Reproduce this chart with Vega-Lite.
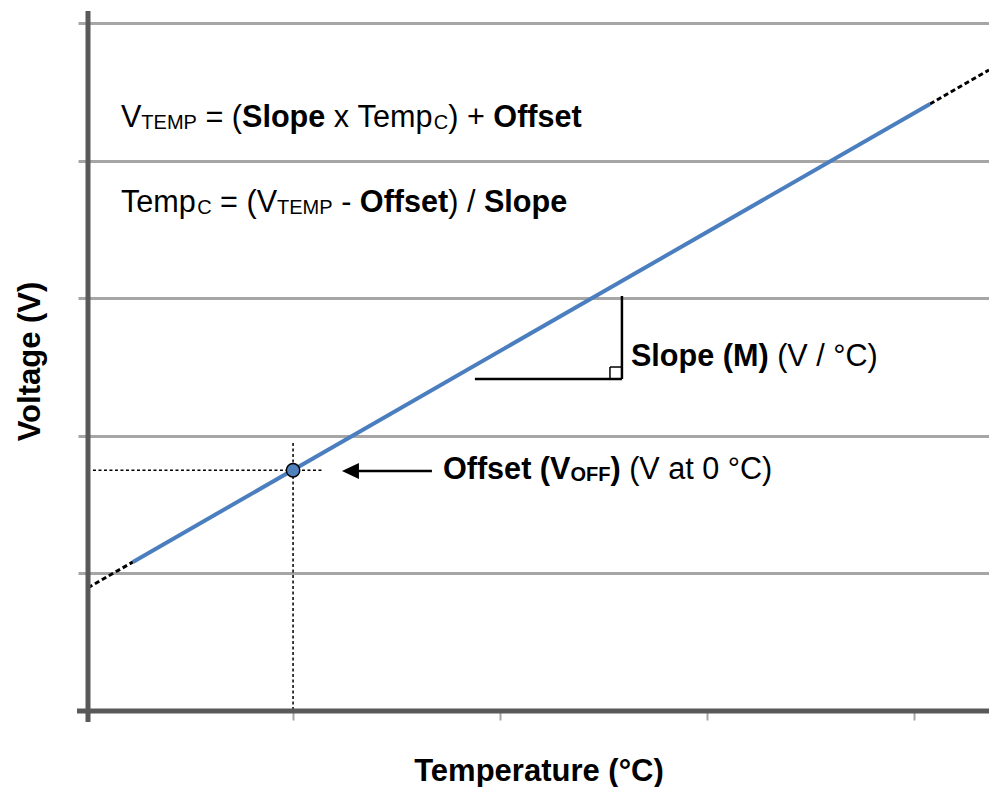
{
  "$schema": "https://vega.github.io/schema/vega-lite/v6.json",
  "width": 901,
  "height": 700,
  "autosize": {"type": "none"},
  "padding": {"left": 88, "top": 11, "right": 0, "bottom": 76},
  "background": "white",
  "config": {"view": {"stroke": null}, "font": "Liberation Sans"},
  "datasets": {
    "axesLines": [
      {"x": 0.01, "y": -0.08, "x2": 0.01, "y2": 5.09},
      {"x": -0.043, "y": 0, "x2": 4.36, "y2": 0}
    ],
    "extensions": [
      {"x": 0.01, "y": 0.896, "x2": 0.227, "y2": 1.084},
      {"x": 4.075, "y": 4.414, "x2": 4.36, "y2": 4.661}
    ],
    "fit": [
      {"x": 0.227, "y": 1.084, "x2": 4.075, "y2": 4.414}
    ],
    "crosshair": [
      {"x": 0.034, "y": 1.75, "x2": 1.139, "y2": 1.75},
      {"x": 1, "y": 1.949, "x2": 1, "y2": 0}
    ],
    "offsetPoint": [{"x": 1, "y": 1.75}],
    "arrowShaft": [{"x": 1.29, "y": 1.745, "x2": 1.6705, "y2": 1.745}],
    "arrowHead": [{"x": 1.277, "y": 1.745}],
    "slopeTriangle": [
      {"x": 1.878, "y": 2.414, "x2": 2.5878, "y2": 2.414},
      {"x": 2.5878, "y": 2.414, "x2": 2.5878, "y2": 3.0176}
    ],
    "rightAngle": [
      {"x": 2.53, "y": 2.414, "x2": 2.53, "y2": 2.5013},
      {"x": 2.53, "y": 2.5013, "x2": 2.5878, "y2": 2.5013}
    ],
    "textRegular": [
      {"x": 0.169, "y": 4.2465, "text": "V"},
      {"x": 0.5768, "y": 4.2465, "text": "= ("},
      {"x": 1.1968, "y": 4.2465, "text": "x"},
      {"x": 1.3117, "y": 4.2465, "text": "Temp"},
      {"x": 1.7494, "y": 4.2465, "text": ") +"},
      {"x": 0.169, "y": 3.6284, "text": "Temp"},
      {"x": 0.6477, "y": 3.6284, "text": "= ("},
      {"x": 0.8243, "y": 3.6284, "text": "V"},
      {"x": 1.2322, "y": 3.6284, "text": "-"},
      {"x": 1.7492, "y": 3.6284, "text": ") /"},
      {"x": 3.3371, "y": 2.5086, "text": "(V / °C)"},
      {"x": 2.6226, "y": 1.687, "text": "(V at 0 °C)"}
    ],
    "textBold": [
      {"x": 0.7534, "y": 4.2465, "text": "Slope"},
      {"x": 1.967, "y": 4.2465, "text": "Offset"},
      {"x": 1.3224, "y": 3.6284, "text": "Offset"},
      {"x": 1.9216, "y": 3.6284, "text": "Slope"},
      {"x": 2.6313, "y": 2.5086, "text": "Slope (M)"},
      {"x": 1.7236, "y": 1.687, "text": "Offset (V"},
      {"x": 2.5323, "y": 1.687, "text": ")"}
    ],
    "textSub": [
      {"x": 0.2675, "y": 4.232, "text": "TEMP"},
      {"x": 1.6797, "y": 4.232, "text": "C"},
      {"x": 0.5369, "y": 3.6139, "text": "C"},
      {"x": 0.9228, "y": 3.6139, "text": "TEMP"}
    ],
    "textSubBold": [
      {"x": 2.3392, "y": 1.6724, "text": "OFF"}
    ]
  },
  "encoding": {
    "x": {
      "field": "x",
      "type": "quantitative",
      "scale": {"domain": [0.01, 4.36], "nice": false, "zero": false},
      "axis": {
        "title": "Temperature (°C)",
        "titleFont": "Liberation Sans",
        "titleFontSize": 31,
        "titleFontWeight": "bold",
        "titleColor": "black",
        "titlePadding": 35,
        "labels": false,
        "domain": false,
        "grid": false,
        "values": [1, 2, 3, 4],
        "tickSize": 9,
        "tickWidth": 2,
        "tickColor": "#a6a6a6"
      }
    },
    "y": {
      "field": "y",
      "type": "quantitative",
      "scale": {"domain": [0, 5.09], "nice": false, "zero": false},
      "axis": {
        "title": "Voltage (V)",
        "titleFont": "Liberation Sans",
        "titleFontSize": 31,
        "titleFontWeight": "bold",
        "titleColor": "black",
        "titlePadding": 30,
        "labels": false,
        "domain": false,
        "grid": true,
        "gridColor": "#a6a6a6",
        "gridWidth": 3,
        "values": [1, 2, 3, 4, 5],
        "tickSize": 10,
        "tickWidth": 3,
        "tickColor": "#a6a6a6"
      }
    }
  },
  "layer": [
    {
      "data": {"name": "extensions"},
      "mark": {"type": "rule", "color": "black", "strokeWidth": 3, "strokeDash": [5, 3]},
      "encoding": {"x2": {"field": "x2"}, "y2": {"field": "y2"}}
    },
    {
      "data": {"name": "fit"},
      "mark": {"type": "rule", "color": "#4a7ebf", "strokeWidth": 4},
      "encoding": {"x2": {"field": "x2"}, "y2": {"field": "y2"}}
    },
    {
      "data": {"name": "crosshair"},
      "mark": {"type": "rule", "color": "black", "strokeWidth": 1.5, "strokeDash": [3, 2.5]},
      "encoding": {"x2": {"field": "x2"}, "y2": {"field": "y2"}}
    },
    {
      "data": {"name": "axesLines"},
      "mark": {"type": "rule", "color": "#595959", "strokeWidth": 5},
      "encoding": {"x2": {"field": "x2"}, "y2": {"field": "y2"}}
    },
    {
      "data": {"name": "offsetPoint"},
      "mark": {"type": "point", "shape": "circle", "filled": true, "fill": "#4f81bd", "stroke": "black", "strokeWidth": 1.5, "size": 180, "opacity": 1}
    },
    {
      "data": {"name": "arrowShaft"},
      "mark": {"type": "rule", "color": "black", "strokeWidth": 2.5},
      "encoding": {"x2": {"field": "x2"}, "y2": {"field": "y2"}}
    },
    {
      "data": {"name": "arrowHead"},
      "mark": {"type": "point", "shape": "M1,-0.94L-1,0L1,0.94Z", "filled": true, "color": "black", "size": 289, "opacity": 1}
    },
    {
      "data": {"name": "slopeTriangle"},
      "mark": {"type": "rule", "color": "black", "strokeWidth": 2.5},
      "encoding": {"x2": {"field": "x2"}, "y2": {"field": "y2"}}
    },
    {
      "data": {"name": "rightAngle"},
      "mark": {"type": "rule", "color": "black", "strokeWidth": 1.5},
      "encoding": {"x2": {"field": "x2"}, "y2": {"field": "y2"}}
    },
    {
      "data": {"name": "textRegular"},
      "mark": {"type": "text", "font": "Liberation Sans", "fontSize": 30.6, "align": "left", "baseline": "alphabetic", "color": "black"},
      "encoding": {"text": {"field": "text"}}
    },
    {
      "data": {"name": "textBold"},
      "mark": {"type": "text", "font": "Liberation Sans", "fontSize": 30.6, "fontWeight": "bold", "align": "left", "baseline": "alphabetic", "color": "black"},
      "encoding": {"text": {"field": "text"}}
    },
    {
      "data": {"name": "textSub"},
      "mark": {"type": "text", "font": "Liberation Sans", "fontSize": 20, "align": "left", "baseline": "alphabetic", "color": "black"},
      "encoding": {"text": {"field": "text"}}
    },
    {
      "data": {"name": "textSubBold"},
      "mark": {"type": "text", "font": "Liberation Sans", "fontSize": 20, "fontWeight": "bold", "align": "left", "baseline": "alphabetic", "color": "black"},
      "encoding": {"text": {"field": "text"}}
    }
  ]
}
